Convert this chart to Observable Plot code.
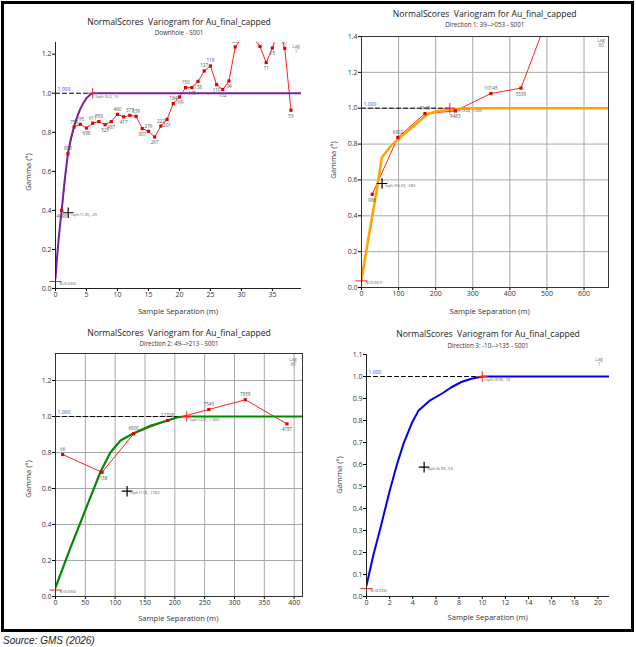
<!DOCTYPE html>
<html><head><meta charset="utf-8">
<script src="https://cdn.jsdelivr.net/npm/d3@7"></script>
<script src="https://cdn.jsdelivr.net/npm/@observablehq/plot@0.6"></script>
<style>
body{margin:0;background:#fff;}
#root{position:relative;width:636px;height:647px;overflow:hidden;background:#fff;font-family:"Open Sans",sans-serif;}
#frame{position:absolute;left:1px;top:1px;width:627px;height:625px;border:3px solid #000;}
.pan{position:absolute;}
.t{position:absolute;transform:translate(-50%,-50%);white-space:pre;color:#333;line-height:1;}
.src{position:absolute;left:3px;top:635px;font:italic 10px "Liberation Sans",Arial,sans-serif;color:#222;}
</style></head>
<body><div id="root"><div id="frame"></div></div>
<script>
// ---------- DATA ----------
const titleText = "NormalScores  Variogram for Au_final_capped";
const subtitles = ["Downhole - S001", "Direction 1: 39-->053 - S001", "Direction 2: 49-->213 - S001", "Direction 3: -10-->135 - S001"];
const xLabel = "Sample Separation (m)";
const yLabel = "Gamma (°)";
const lagLabels = ["1", "80", "60", "1"];

// Panel 1 – downhole experimental
const p1Lag = [1,2,3,4,5,6,7,8,9,10,11,12,13,14,15,16,17,18,19,20,21,22,23,24,25,26,27,28,29,30,31,32,33,34,35,36,37,38];
const p1Gamma = [0.40,0.69,0.827,0.841,0.822,0.847,0.855,0.839,0.855,0.892,0.879,0.887,0.882,0.819,0.805,0.776,0.832,0.866,0.947,0.981,1.029,1.029,1.061,1.114,1.140,1.044,1.019,1.063,1.237,1.28,1.29,1.28,1.240,1.157,1.232,1.33,1.23,0.913];
const p1Pairs = ["4098","808","759","795","698","611","558","525","487","460","417","373","339","307","276","267","222","201","184","169","150","145","138","127","118","110","102","94","88","86","82","79","77","71","65","62","57","53"];
const p1ModelX = [0,0.25,0.5,0.75,1,1.5,2,2.5,3,3.5,4,4.5,5,5.5,6,39.7];
const p1ModelY = [0.05,0.16,0.25,0.33,0.40,0.56,0.69,0.77,0.83,0.88,0.92,0.95,0.975,0.99,1.0,1.0];

// Panel 2 – direction 1
const p2Lag = [29,98,171,253,349,430,510];
const p2Gamma = [0.52,0.837,0.970,0.985,1.082,1.112,1.55];
const p2Pairs = ["986","6902","9145","9483","10145","5339","3208"];
const p2ModelX = [0,20,40,55,75,100,120,140,160,177,200,230,262,285,666];
const p2ModelY = [0.045,0.29,0.53,0.725,0.78,0.83,0.865,0.9,0.935,0.965,0.982,0.99,0.995,1.0,1.0];

// Panel 3 – direction 2
const p3Lag = [12,78,131,188,257,318,388];
const p3Gamma = [0.789,0.69,0.904,0.978,1.039,1.093,0.959];
const p3Pairs = ["66","4138","6800","11708","7545","7959","4787"];
const p3ModelX = [0,25,50,75,92,109,131,160,188,204,215,414];
const p3ModelY = [0.05,0.27,0.48,0.69,0.80,0.867,0.907,0.95,0.978,0.996,1.0,1.0];

// Panel 4 – direction 3 (model only)
const p4Lag = [];
const p4Gamma = [];
const p4Pairs = [];
const p4ModelX = [0,0.6,1.2,2.0,2.63,3.2,3.9,4.5,5.5,6.6,7.3,8.2,9.07,10,21];
const p4ModelY = [0.05,0.19,0.31,0.48,0.60,0.695,0.786,0.846,0.892,0.925,0.95,0.975,0.99,1.0,1.0];

// Model annotations per panel
const nuggets = [0.036, 0.037, 0.036, 0.036];
const sills = [1.0, 1.0, 1.0, 1.0];
const ranges = [6.0, 238, 220, 10];
const rangeLabels = ["(sph (6.0, 1))", "(sph (238, 1.00))", "(sph (221, 1.00))", "(sph (9.95, 1))"];
const nuggetLabels = ["N (0.036)", "N (0.037)", "N (0.036)", "N (0.036)"];
const crossX = [2.05, 55.4, 120, 4.98];
const crossY = [0.388, 0.58, 0.585, 0.588];
const crossLabels = ["(sph (1.35, .2))", "(sph (55.55, .58))", "(sph (118, .176))", "(sph (4.93, .5))"];

// Ticks
const p1XTicks = [0,5,10,15,20,25,30,35];
const p1YTicks = [0,0.2,0.4,0.6,0.8,1.0,1.2];
const p2XTicks = [0,100,200,300,400,500,600];
const p2YTicks = [0,0.2,0.4,0.6,0.8,1.0,1.2,1.4];
const p3XTicks = [0,50,100,150,200,250,300,350,400];
const p3YTicks = [0,0.2,0.4,0.6,0.8,1.0,1.2];
const p4XTicks = [0,2,4,6,8,10,12,14,16,18,20];
const p4YTicks = [0,0.1,0.2,0.3,0.4,0.5,0.6,0.7,0.8,0.9,1.0,1.1];

// ---------- BUILD ----------
const root = document.getElementById("root");
const zip = (xs, ys, ls) => xs.map((x, i) => ({x, y: ys[i], label: ls ? ls[i] : ""}));

const cfg = [
  {left:0, top:0, w:318, h:320, ml:55, mr:17, mt:42, mb:32, xd:[0,39.7], yd:[0,1.26], xt:p1XTicks, yt:p1YTicks, grid:false, color:"#7b1fa2", sw:2,
   lag:p1Lag, gam:p1Gamma, pairs:p1Pairs, mx:p1ModelX, my:p1ModelY, lagPos:[296,48],
   title:[179,21.5], sub:[179,33], xl:[178,311.5], yl:[29,172]},
  {left:318, top:0, w:318, h:320, ml:43, mr:28, mt:36, mb:33, xd:[0,666], yd:[0,1.4], xt:p2XTicks, yt:p2YTicks, grid:true, color:"#ffa500", sw:2.6,
   lag:p2Lag, gam:p2Gamma, pairs:p2Pairs, mx:p2ModelX, my:p2ModelY, lagPos:[601,42],
   title:[484.7,14], sub:[484.7,25], xl:[489.7,311.5], yl:[334,160]},
  {left:0, top:320, w:318, h:327, ml:55, mr:16, mt:33, mb:51, xd:[0,414], yd:[0,1.35], xt:p3XTicks, yt:p3YTicks, grid:true, color:"#008a00", sw:2.2,
   lag:p3Lag, gam:p3Gamma, pairs:p3Pairs, mx:p3ModelX, my:p3ModelY, lagPos:[293,361],
   title:[179,333], sub:[179,344.3], xl:[178.3,619], yl:[29,479]},
  {left:318, top:320, w:318, h:327, ml:48, mr:27, mt:34, mb:51, xd:[0,21], yd:[0,1.1], xt:p4XTicks, yt:p4YTicks, grid:false, color:"#0000ee", sw:2,
   lag:p4Lag, gam:p4Gamma, pairs:p4Pairs, mx:p4ModelX, my:p4ModelY, lagPos:[599,361],
   title:[488,334], sub:[488,345.7], xl:[487.7,617.7], yl:[339.7,475]}
];

function addText(txt, x, y, style) {
  const d = document.createElement("div");
  d.className = "t";
  d.textContent = txt;
  d.style.left = x + "px";
  d.style.top = y + "px";
  Object.assign(d.style, style || {});
  root.appendChild(d);
}

cfg.forEach((c, i) => {
  const exp = zip(c.lag, c.gam, c.pairs);
  // label goes below a point that sits lower than its neighbours, above otherwise
  exp.forEach((d, k) => {
    const prev = exp[k - 1] ? exp[k - 1].y : d.y;
    const next = exp[k + 1] ? exp[k + 1].y : d.y;
    d.below = d.y < (prev + next) / 2;
  });
  const model = zip(c.mx, c.my);
  const sillLine = [{x: 0, y: sills[i]}, {x: ranges[i], y: sills[i]}];
  const nug = [{x: 0, y: nuggets[i], label: nuggetLabels[i]}];
  const rng = [{x: ranges[i], y: sills[i], label: rangeLabels[i]}];
  const crs = [{x: crossX[i], y: crossY[i], label: crossLabels[i]}];
  const marks = [];
  if (c.grid) {
    marks.push(Plot.gridX(c.xt, {stroke: "#a8a8a8", strokeOpacity: 1, strokeWidth: 1}));
    marks.push(Plot.gridY(c.yt, {stroke: "#a8a8a8", strokeOpacity: 1, strokeWidth: 1}));
  }
  marks.push(Plot.axisX(c.xt, {tickSize: 3, fontSize: 7, tickPadding: 1, tickFormat: d3.format("d"), label: null, fill: "#333"}));
  marks.push(Plot.axisY(c.yt, {tickSize: 3, fontSize: 7, tickPadding: 1, tickFormat: d3.format(".1f"), label: null, fill: "#333"}));
  marks.push(Plot.line(sillLine, {x: "x", y: "y", stroke: "#000", strokeWidth: 1, strokeDasharray: "4,3"}));
  marks.push(Plot.text([{x: 0, y: sills[i], label: sills[i].toFixed(3)}], {x: "x", y: "y", text: "label", fill: "#3344ee", fontSize: 5, textAnchor: "start", dx: 2, dy: -4}));
  if (exp.length) {
    marks.push(Plot.line(exp, {x: "x", y: "y", stroke: "#ff2020", strokeWidth: 1, clip: true}));
  }
  marks.push(Plot.line(model, {x: "x", y: "y", stroke: c.color, strokeWidth: c.sw, clip: true}));
  if (exp.length) {
    marks.push(Plot.dot(exp, {x: "x", y: "y", fill: "#e00000", symbol: "square", r: 1.8, clip: true}));
    marks.push(Plot.text(exp.filter(d => !d.below), {x: "x", y: "y", text: "label", fill: "#555", fontSize: 4.6, dy: -5, clip: true}));
    marks.push(Plot.text(exp.filter(d => d.below), {x: "x", y: "y", text: "label", fill: "#555", fontSize: 4.6, dy: 6, clip: true}));
  }
  marks.push(Plot.dot(nug, {x: "x", y: "y", symbol: "plus", stroke: "#ff2020", strokeWidth: 1, r: 4}));
  marks.push(Plot.text(nug, {x: "x", y: "y", text: "label", fill: "#555", fontSize: 4, textAnchor: "start", dx: 4, dy: 2}));
  marks.push(Plot.dot(rng, {x: "x", y: "y", symbol: "plus", stroke: "#ff2020", strokeWidth: 1, r: 3.5}));
  marks.push(Plot.text(rng, {x: "x", y: "y", text: "label", fill: "#555", fontSize: 4, textAnchor: "start", dx: 3, dy: 3}));
  marks.push(Plot.dot(crs, {x: "x", y: "y", symbol: "plus", stroke: "#000", strokeWidth: 1.2, r: 3.5}));
  marks.push(Plot.text(crs, {x: "x", y: "y", text: "label", fill: "#555", fontSize: 4, textAnchor: "start", dx: 3, dy: 2}));
  if (c.grid) {
    marks.push(Plot.frame({stroke: "#333", strokeWidth: 1}));
  } else {
    marks.push(Plot.ruleX([c.xd[0]], {stroke: "#222", strokeWidth: 1}));
    marks.push(Plot.ruleY([c.yd[0]], {stroke: "#222", strokeWidth: 1}));
  }
  const svg = Plot.plot({
    width: c.w, height: c.h,
    marginLeft: c.ml, marginRight: c.mr, marginTop: c.mt, marginBottom: c.mb,
    x: {domain: c.xd},
    y: {domain: c.yd},
    style: {fontFamily: "'Open Sans', sans-serif", background: "transparent", overflow: "visible"},
    marks
  });
  svg.classList.add("pan");
  svg.style.left = c.left + "px";
  svg.style.top = c.top + "px";
  root.appendChild(svg);

  addText(titleText, c.title[0], c.title[1], {fontSize: "8.6px", color: "#222"});
  addText(subtitles[i], c.sub[0], c.sub[1], {fontSize: "6.2px", color: "#333"});
  addText(xLabel, c.xl[0], c.xl[1], {fontSize: "7.6px", color: "#333"});
  addText(yLabel, c.yl[0], c.yl[1], {fontSize: "7.6px", color: "#333", transform: "translate(-50%,-50%) rotate(-90deg)"});
  addText("Lag\n" + lagLabels[i], c.lagPos[0], c.lagPos[1], {fontSize: "4.5px", color: "#777", textAlign: "center"});
});

const s = document.createElement("div");
s.className = "src";
s.textContent = "Source: GMS (2026)";
root.appendChild(s);
</script>
</body></html>
